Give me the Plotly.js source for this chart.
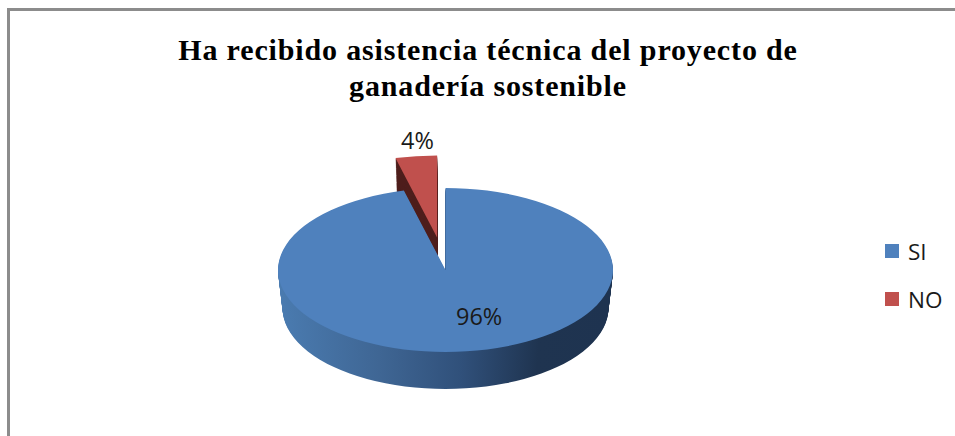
<!DOCTYPE html>
<html>
<head>
<meta charset="utf-8">
<script src="https://cdn.plot.ly/plotly-3.0.1.min.js"></script>
<style>html,body{margin:0;padding:0;background:#fff;overflow:hidden}</style>
</head>
<body>
<div id="chart" style="width:955px;height:436px"></div>
<script>
const categories = ["SI", "NO"];
const values = [96, 4];
const pulls = [0, 0.4];
const topColors = ["#4f81bd", "#c0504d"];
const sideColors = ["#2f4f76", "#4e1e1c"];
const titleText = "Ha recibido asistencia técnica del proyecto de<br>ganadería sostenible";

const W = 955, H = 436;
const DEPTH = 38;               // extruded thickness in px
const cx = 445.5, cy = 270;     // centre of top ellipse
const rx = 167.5, ry = 82;      // top ellipse radii
const rxBottom = 163, ryBottom = 81;
const baseR = (H / 2) / (1 + Math.max(...pulls));
const total = values.reduce((a, b) => a + b, 0);
const pct = values.map(v => Math.round(v / total * 100) + "%");

function pieTrace(colors, legend) {
  return {
    type: "pie", labels: categories, values: values, pull: pulls,
    sort: false, direction: "clockwise", rotation: 0,
    textinfo: "none", hoverinfo: "skip", showlegend: legend,
    domain: {x: [0, 1], y: [0, 1]},
    marker: {colors: colors, line: {width: 0}}
  };
}
const traces = [];
for (let i = DEPTH; i >= 1; i--) traces.push(pieTrace(sideColors, false));
traces.push(pieTrace(topColors, true));

const layout = {
  width: W, height: H,
  margin: {l: 0, r: 0, t: 0, b: 0},
  paper_bgcolor: "#ffffff", plot_bgcolor: "#ffffff",
  title: {
    text: titleText, x: 488 / W, xanchor: "center", y: 1 - 36 / H, yanchor: "top",
    font: {family: "Liberation Serif", size: 30, color: "#000000", weight: 700}
  },
  legend: {
    x: 872 / W, xanchor: "left", y: 1 - 238 / H, yanchor: "top",
    bgcolor: "rgba(0,0,0,0)", borderwidth: 0, traceorder: "normal",
    font: {family: "Open Sans", size: 22.5, color: "#1a1a1a"}
  },
  shapes: [
    {type: "line", xref: "paper", yref: "paper", x0: 8.5 / W, x1: 8.5 / W, y0: 0, y1: 1 - 8 / H,
     line: {color: "#8c8c8c", width: 3}},
    {type: "line", xref: "paper", yref: "paper", x0: 7 / W, x1: 1, y0: 1 - 9.5 / H, y1: 1 - 9.5 / H,
     line: {color: "#8c8c8c", width: 3}}
  ],
  annotations: [
    {text: pct[0], xref: "paper", yref: "paper", x: 479 / W, y: 1 - 316 / H, xanchor: "center", yanchor: "middle",
     showarrow: false, font: {family: "Open Sans", size: 23.5, color: "#1a1a1a"}},
    {text: pct[1], xref: "paper", yref: "paper", x: 417 / W, y: 1 - 140 / H, xanchor: "center", yanchor: "middle",
     showarrow: false, font: {family: "Open Sans", size: 23.5, color: "#1a1a1a"}}
  ]
};

Plotly.newPlot("chart", traces, layout, {displayModeBar: false, staticPlot: true}).then(() => {
  const root = document.getElementById("chart");
  const svg = root.querySelector("svg.main-svg");
  const NS = "http://www.w3.org/2000/svg";
  const defs = svg.querySelector("defs");
  const grad = document.createElementNS(NS, "linearGradient");
  grad.setAttribute("id", "sideGrad");
  [[0, "#4a7bb0"], [0.3, "#3f6694"], [0.55, "#30507a"], [0.78, "#1f3450"], [1, "#1e3350"]].forEach(s => {
    const st = document.createElementNS(NS, "stop");
    st.setAttribute("offset", s[0]);
    st.setAttribute("stop-color", s[1]);
    grad.appendChild(st);
  });
  defs.appendChild(grad);

  const groups = root.querySelectorAll(".pielayer .trace");
  groups.forEach((g, idx) => {
    const d = DEPTH - idx;                 // top trace has d = 0
    const t = d / DEPTH;
    const sx = (rx + (rxBottom - rx) * t) / baseR;
    const sy = (ry + (ryBottom - ry) * t) / baseR;
    g.setAttribute("transform",
      `translate(${cx},${cy + d}) scale(${sx},${sy}) translate(${-W / 2},${-H / 2})`);
    if (d > 0) {
      const first = g.querySelector(".slice path.surface");
      if (first) first.style.fill = "url(#sideGrad)";
    }
  });

  // title: the reference is set wider than the plain font, with tighter leading
  const titleEl = root.querySelector(".gtitle");
  if (titleEl) {
    titleEl.style.letterSpacing = "0.85px";
    titleEl.setAttribute("y", parseFloat(titleEl.getAttribute("y")) + 24);
    titleEl.querySelectorAll("tspan.line").forEach((ts, i) => {
      ts.removeAttribute("y");
      ts.setAttribute("dy", i === 0 ? "0" : "36");
    });
  }

  // legend: wider row spacing and larger swatches
  const scroll = root.querySelector(".legend .scrollbox");
  if (scroll) scroll.removeAttribute("clip-path");
  root.querySelectorAll(".legend .traces").forEach((it, i) => {
    it.setAttribute("transform", `translate(0,${13 + i * 48})`);
    const p = it.querySelector(".legendpoints path");
    if (p) {
      const old = p.getAttribute("transform") || "";
      p.setAttribute("transform", old + " scale(1.17)");
    }
    const tx = it.querySelector(".legendtext");
    if (tx) tx.setAttribute("x", parseFloat(tx.getAttribute("x")) - 4);
  });
});
</script>
</body>
</html>
